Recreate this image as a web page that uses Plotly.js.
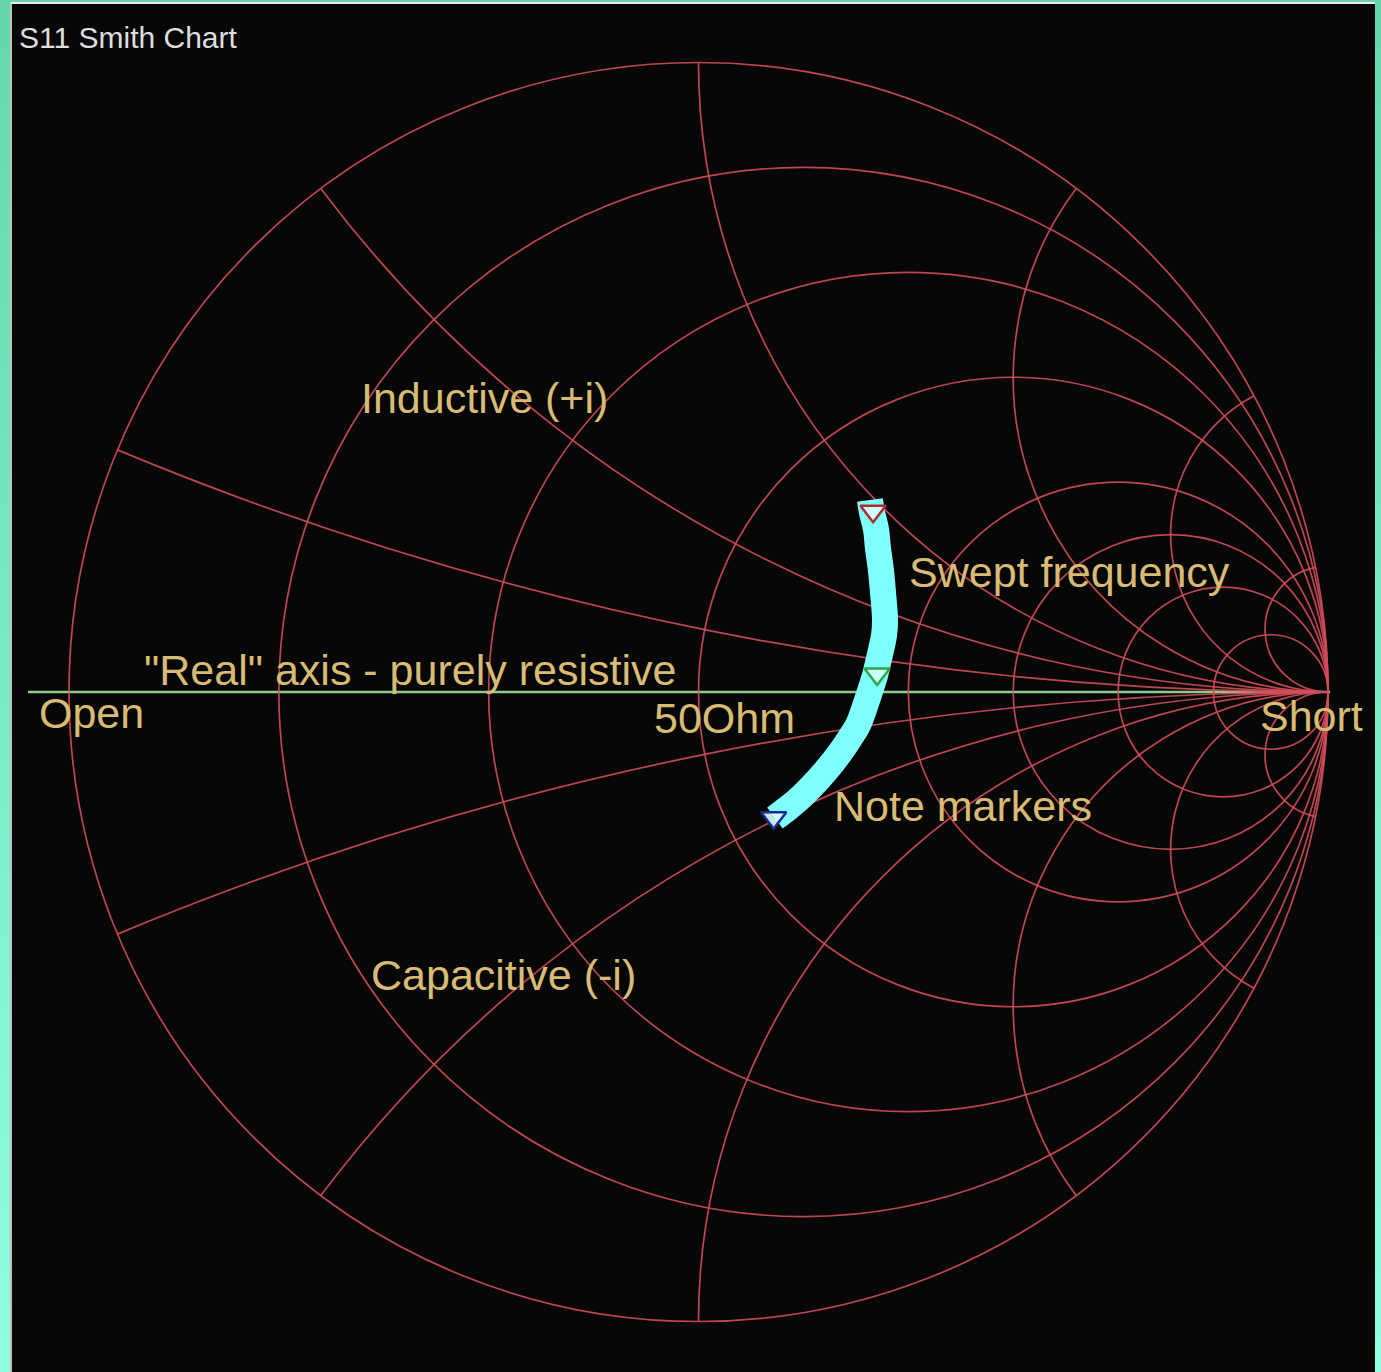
<!DOCTYPE html>
<html>
<head>
<meta charset="utf-8">
<script src="https://cdn.plot.ly/plotly-3.0.1.min.js"></script>
<style>
  html, body { margin: 0; padding: 0; width: 1381px; height: 1372px; overflow: hidden;
    background: linear-gradient(to bottom, #66d6aa, #8fffe2); }
  #wrap { position: absolute; left: 10px; top: 2px; border-left: 2px solid #c0c0c0; border-top: 2px solid #ececec; }
  #chart { width: 1363px; height: 1368px; }
</style>
</head>
<body>
<div id="wrap"><div id="chart"></div></div>
<script>
// ---- data (normalized impedance) ----
const realTicks = [0.2, 0.5, 1, 2, 3, 5, 10];
const imagTicks = [-10, -4, -2, -1, -0.5, -0.2, 0.2, 0.5, 1, 2, 4, 10];

const sweepReal = [1.338, 1.388, 1.469, 1.534, 1.621, 1.696, 1.769, 1.790, 1.792, 1.786, 1.776, 1.755,
                   1.731, 1.666, 1.610, 1.554, 1.493, 1.423, 1.356, 1.292, 1.229, 1.164];
const sweepImag = [0.980, 0.943, 0.885, 0.816, 0.715, 0.600, 0.450, 0.358, 0.262, 0.180, 0.104, 0.024,
                   -0.047, -0.187, -0.251, -0.305, -0.353, -0.398, -0.433, -0.460, -0.479, -0.493];

const markerReal = [1.39, 1.788, 1.16];
const markerImag = [0.95, 0.111, -0.49];
const markerEdge = ['#b02a2a', '#2aa848', '#1a2a8a'];

const labelTexts = ['Inductive (+i)', 'Swept frequency', '"Real" axis - purely resistive',
                    'Open', '50Ohm', 'Short', 'Note markers', 'Capacitive (-i)'];
const titleText = 'S11 Smith Chart';

// ---- layout helpers (window pixels -> paper) ----
const W = 1363, H = 1368, OX = 12, OY = 4;
const px = X => (X - OX) / W;
const py = Y => 1 - (Y - OY) / H;

const labelPos = [[359, 398], [907, 572], [142, 670], [37, 713], [652, 718], [1258, 716], [832, 806], [369, 975]];
const labelColor = '#d8bb74';
const fontFam = 'Liberation Sans, Arial, sans-serif';

const annotations = labelTexts.map((t, i) => ({
  text: t, xref: 'paper', yref: 'paper',
  x: px(labelPos[i][0]), y: py(labelPos[i][1]),
  xanchor: 'left', yanchor: 'middle', showarrow: false,
  font: {family: fontFam, size: 43, color: labelColor}
}));
annotations.push({
  text: titleText, xref: 'paper', yref: 'paper',
  x: px(17), y: py(37), xanchor: 'left', yanchor: 'middle', showarrow: false,
  font: {family: fontFam, size: 30, color: '#dedede'}
});

const gridCol = 'rgba(210,78,90,0.9)';

const traces = [
  {
    type: 'scattersmith', real: sweepReal, imag: sweepImag, mode: 'lines',
    line: {color: '#80ffff', width: 26, shape: 'spline', smoothing: 1}, hoverinfo: 'skip', showlegend: false
  },
  {
    type: 'scattersmith', real: markerReal, imag: markerImag, mode: 'markers',
    marker: {symbol: 'triangle-down', size: 22, color: 'rgba(215,255,255,0.9)',
             line: {color: markerEdge, width: 2.5}},
    hoverinfo: 'skip', showlegend: false
  }
];

const layout = {
  width: W, height: H,
  margin: {l: 0, r: 0, t: 0, b: 0},
  paper_bgcolor: '#070707',
  plot_bgcolor: '#070707',
  showlegend: false,
  smith: {
    domain: {x: [px(69), px(1328)], y: [py(1322), py(62)]},
    bgcolor: 'rgba(0,0,0,0)',
    realaxis: {
      tickvals: realTicks, showticklabels: false, ticks: '',
      showgrid: true, gridcolor: gridCol, gridwidth: 1.7,
      showline: false
    },
    imaginaryaxis: {
      tickvals: imagTicks, showticklabels: false, ticks: '',
      showgrid: true, gridcolor: gridCol, gridwidth: 1.7,
      showline: true, linecolor: gridCol, linewidth: 1.7
    }
  },
  shapes: [
    {type: 'line', xref: 'paper', yref: 'paper', layer: 'below',
     x0: px(28), x1: px(1330), y0: py(692), y1: py(692),
     line: {color: 'rgb(140,205,140)', width: 2.5}}
  ],
  annotations: annotations
};

Plotly.newPlot('chart', traces, layout, {displayModeBar: false, staticPlot: true});
</script>
</body>
</html>
